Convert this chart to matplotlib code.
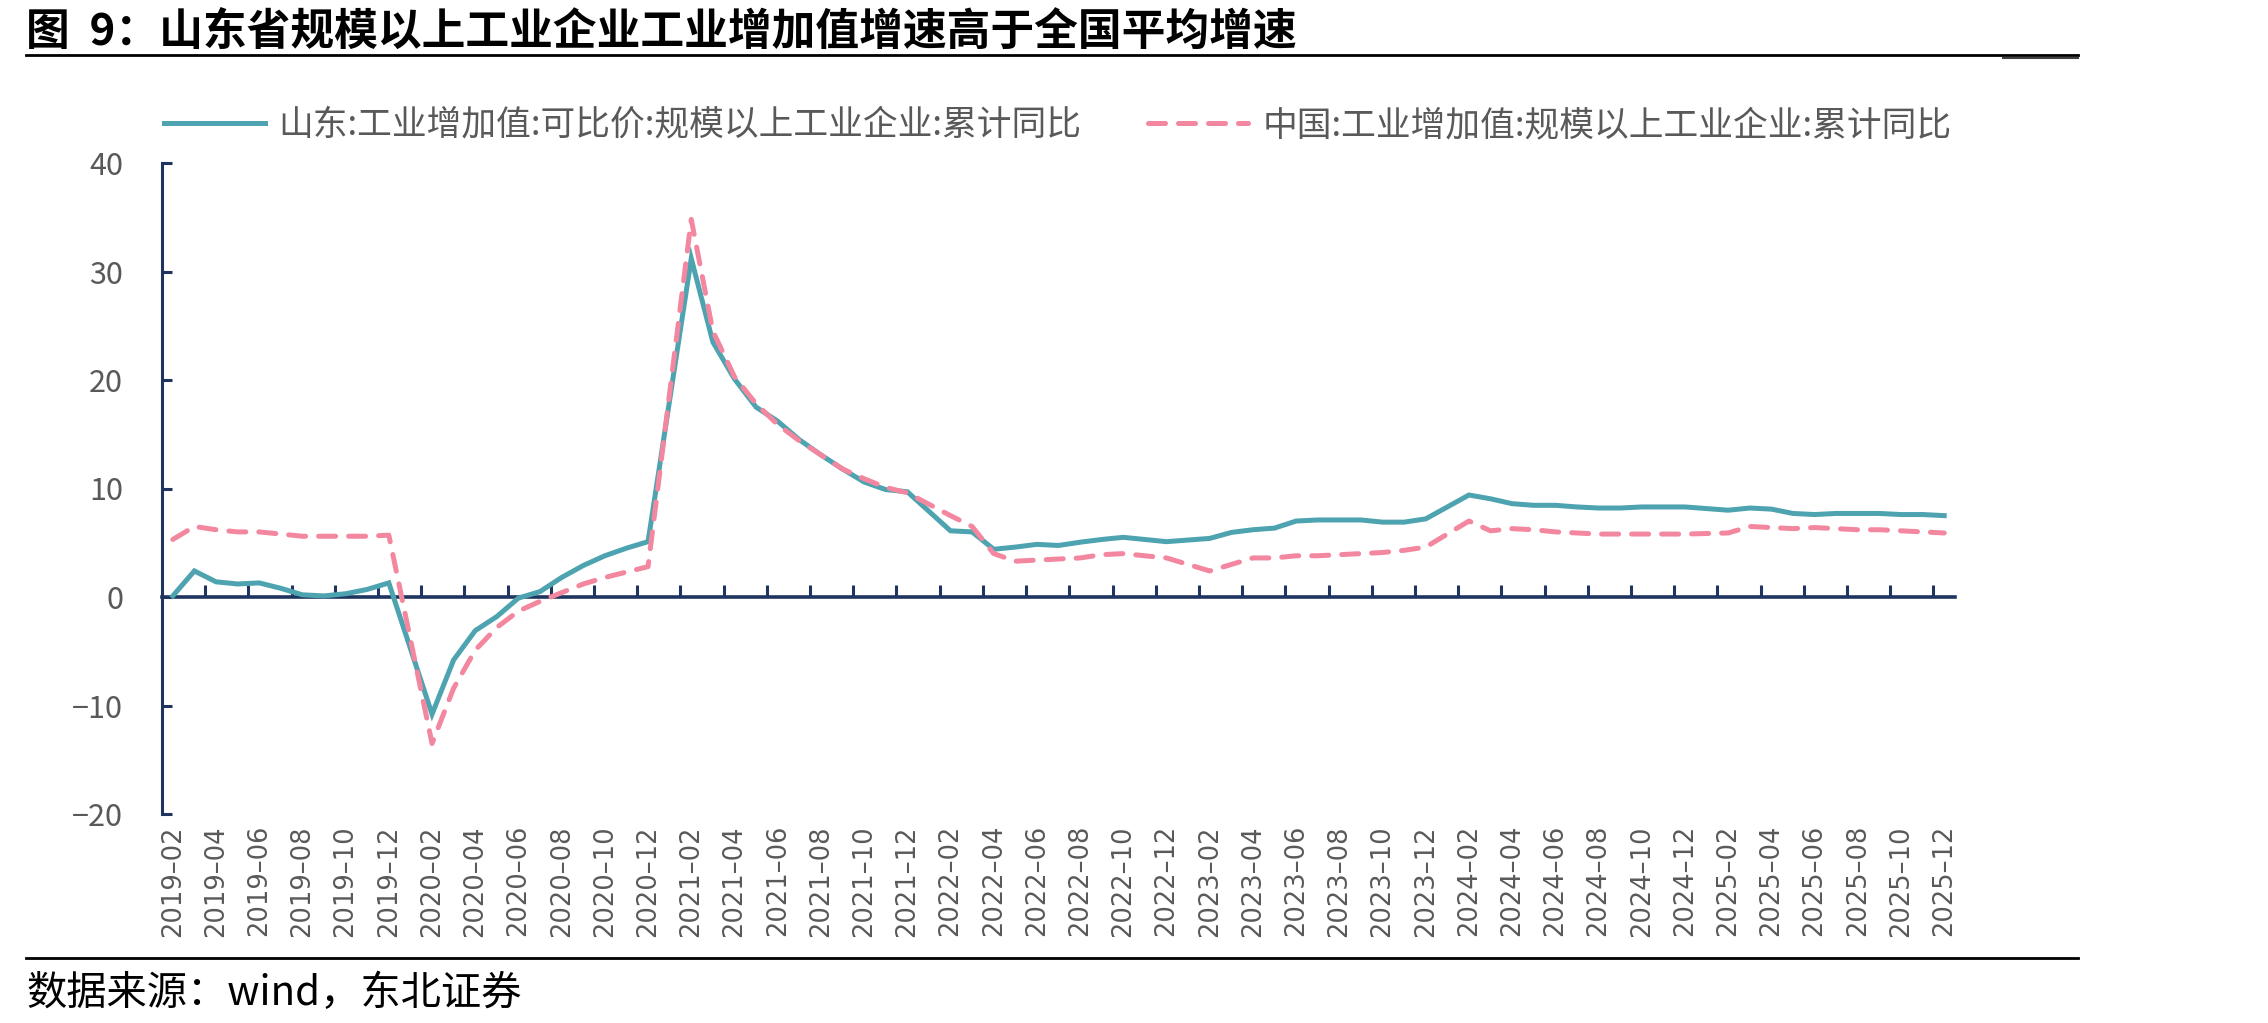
import numpy as np
import matplotlib
matplotlib.use("Agg")
import matplotlib.pyplot as plt
from matplotlib.lines import Line2D

plt.rcParams['font.family'] = ['Noto Sans CJK SC', 'DejaVu Sans']

# ---------------- data ----------------
months = [f"{y}-{m:02d}" for y in range(2019, 2026) for m in range(1, 13)
          if not (y == 2019 and m == 1)]

shandong = [
    # 2019 (Feb-Dec)
    0.1, 2.4, 1.4, 1.2, 1.3, 0.8, 0.2, 0.1, 0.3, 0.7, 1.3,
    # 2020
    None, -10.8, -5.8, -3.1, -1.8, -0.1, 0.5, 1.8, 2.9, 3.8, 4.5, 5.1,
    # 2021
    None, 31.2, 23.5, 20.1, 17.5, 16.2, 14.5, 13.1, 11.8, 10.6, 9.9, 9.7,
    # 2022
    None, 6.1, 6.0, 4.4, 4.6, 4.85, 4.75, 5.05, 5.3, 5.5, 5.3, 5.1,
    # 2023
    None, 5.4, 5.95, 6.2, 6.35, 7.0, 7.1, 7.1, 7.1, 6.9, 6.9, 7.2,
    # 2024
    None, 9.4, 9.05, 8.6, 8.45, 8.45, 8.3, 8.2, 8.2, 8.3, 8.3, 8.3,
    # 2025
    None, 8.0, 8.2, 8.1, 7.7, 7.6, 7.7, 7.7, 7.7, 7.6, 7.6, 7.5,
]

china = [
    # 2019 (Feb-Dec)
    5.3, 6.5, 6.2, 6.0, 6.0, 5.8, 5.6, 5.6, 5.6, 5.6, 5.7,
    # 2020
    None, -13.5, -8.4, -4.9, -2.8, -1.3, -0.4, 0.4, 1.2, 1.8, 2.3, 2.8,
    # 2021
    None, 34.8, 24.5, 20.3, 17.8, 15.9, 14.4, 13.1, 11.8, 10.9, 10.1, 9.6,
    # 2022
    None, 7.5, 6.5, 4.0, 3.3, 3.4, 3.5, 3.6, 3.9, 4.0, 3.8, 3.6,
    # 2023
    None, 2.4, 3.0, 3.6, 3.6, 3.8, 3.8, 3.9, 4.0, 4.1, 4.3, 4.6,
    # 2024
    None, 7.0, 6.1, 6.3, 6.2, 6.0, 5.9, 5.8, 5.8, 5.8, 5.8, 5.8,
    # 2025
    None, 5.9, 6.5, 6.4, 6.3, 6.4, 6.3, 6.2, 6.2, 6.1, 6.0, 5.9,
]

series_names = ["山东:工业增加值:可比价:规模以上工业企业:累计同比",
                "中国:工业增加值:规模以上工业企业:累计同比"]
yticks = [-20, -10, 0, 10, 20, 30, 40]
title = "图  9：山东省规模以上工业企业工业增加值增速高于全国平均增速"
source = "数据来源：wind，东北证券"

# ---------------- figure ----------------
W, H = 2268, 1023
fig = plt.figure(figsize=(W / 100, H / 100), dpi=100)
ax = fig.add_axes([162 / W, 1 - 814 / H, (1955 - 162) / W, (814 - 163) / H])

teal = '#4DA3AF'
pink = '#F2879F'
navy = '#1F3560'
grey = '#595959'

x_all = np.arange(len(months))
sd = np.array([np.nan if v is None else v for v in shandong], dtype=float)
cn = np.array([np.nan if v is None else v for v in china], dtype=float)
m_sd = ~np.isnan(sd)
m_cn = ~np.isnan(cn)

ax.plot(x_all[m_sd], sd[m_sd], color=teal, lw=3.6, solid_joinstyle='miter',
        label=series_names[0], zorder=3)
ax.plot(x_all[m_cn], cn[m_cn], color=pink, lw=3.6, dashes=(3.4, 2.6),
        dash_capstyle='round', label=series_names[1], zorder=4)

ax.set_xlim(-0.5, len(months) - 0.5)
ax.set_ylim(-20, 40)

# spines
for s in ['top', 'right']:
    ax.spines[s].set_visible(False)
ax.spines['left'].set_color(navy)
ax.spines['left'].set_linewidth(2.2)
ax.spines['bottom'].set_position(('data', 0))
ax.spines['bottom'].set_color(navy)
ax.spines['bottom'].set_linewidth(2.6)

ax.set_yticks(yticks)
ax.set_yticklabels([str(v).replace('-', '−') for v in yticks])
ax.tick_params(axis='y', direction='in', length=7, width=2.2, color=navy,
               labelsize=22, labelcolor=grey, pad=28)

# major ticks at category boundaries (no labels)
ax.set_xticks(np.arange(1.5, len(months) - 0.5, 2))
ax.tick_params(axis='x', direction='in', length=9, width=2.2, color=navy,
               labelbottom=False)

# labels at the bottom of the plot area
sec = ax.secondary_xaxis('bottom')
sec.set_xticks(x_all[::2])
sec.set_xticklabels([months[i].replace('-', '–') for i in x_all[::2]],
                    rotation=90, fontsize=18.5, color=grey,
                    family=['DejaVu Sans'])
sec.tick_params(axis='x', length=0, pad=8)
sec.spines['bottom'].set_visible(False)

# legend
leg = ax.legend(loc='center left', ncol=2, frameon=False, fontsize=25,
                handlelength=2.9, handletextpad=0.4, columnspacing=1.9,
                borderaxespad=0, borderpad=0)
for t in leg.get_texts():
    t.set_color(grey)
leg.set_bbox_to_anchor((164 / W, 1 - 126 / H), transform=fig.transFigure)

# title + rules
fig.text(26 / W, 1 - 33 / H, title, fontsize=31.5, fontweight='bold',
         color='black', va='center', ha='left')
fig.add_artist(Line2D([26 / W, 2078 / W], [1 - 55 / H, 1 - 55 / H],
                      color='black', lw=2.0))
fig.add_artist(Line2D([2003 / W, 2078 / W], [1 - 58 / H, 1 - 58 / H],
                      color='#404040', lw=1.5))
fig.add_artist(Line2D([26 / W, 2078 / W], [1 - 958 / H, 1 - 958 / H],
                      color='black', lw=2.0))
fig.text(26 / W, 1 - 993 / H, source, fontsize=29, color='black',
         va='center', ha='left')

fig.savefig('out.png', dpi=100)
